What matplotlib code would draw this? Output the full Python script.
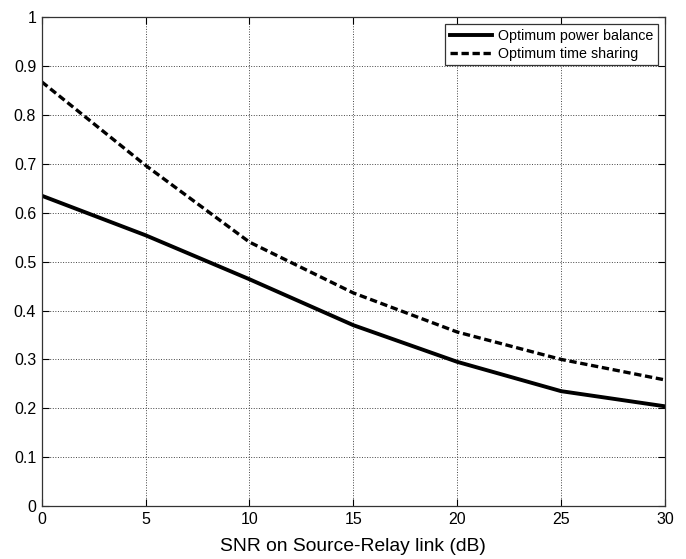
import matplotlib.pyplot as plt
from matplotlib import rc

rc('font', family=['Liberation Sans', 'DejaVu Sans'])

snr_db = [0, 5, 10, 15, 20, 25, 30]
power_balance = [0.635, 0.554, 0.464, 0.370, 0.295, 0.235, 0.204]
time_sharing = [0.868, 0.697, 0.540, 0.436, 0.356, 0.300, 0.258]
x_ticks = [0, 5, 10, 15, 20, 25, 30]
y_ticks = [0, 0.1, 0.2, 0.3, 0.4, 0.5, 0.6, 0.7, 0.8, 0.9, 1]
y_tick_labels = ['0', '0.1', '0.2', '0.3', '0.4', '0.5', '0.6', '0.7', '0.8', '0.9', '1']


def main():
    fig = plt.figure(figsize=(6.86, 5.59), dpi=100)
    ax = fig.add_axes([0.0608, 0.0948, 0.9086, 0.8742])

    ax.plot(snr_db, power_balance, color='black', lw=2.8, ls='-',
            label='Optimum power balance')
    ax.plot(snr_db, time_sharing, color='black', lw=2.4, ls=(0, (2.2, 1.1)),
            label='Optimum time sharing')

    ax.set_xlim(0, 30)
    ax.set_ylim(0, 1)
    ax.set_xticks(x_ticks)
    ax.set_yticks(y_ticks)
    ax.set_yticklabels(y_tick_labels)
    ax.tick_params(direction='in', top=True, right=True, labelsize=11.5,
                   length=5, width=0.8, pad=4)
    ax.grid(True, ls=':', lw=0.7, color='#444444')
    for s in ax.spines.values():
        s.set_linewidth(0.9)
        s.set_color('#333333')

    ax.set_xlabel('SNR on Source-Relay link (dB)', fontsize=13.9, labelpad=8)

    leg = ax.legend(loc='upper right', fontsize=10.3, fancybox=False,
                    framealpha=1, edgecolor='#333333', borderpad=0.3,
                    handlelength=3.0, handletextpad=0.4, labelspacing=0.3,
                    borderaxespad=0.5)
    leg.get_frame().set_linewidth(0.9)

    fig.savefig('out.png', dpi=100)
    plt.close(fig)


if __name__ == "__main__":
    main()
